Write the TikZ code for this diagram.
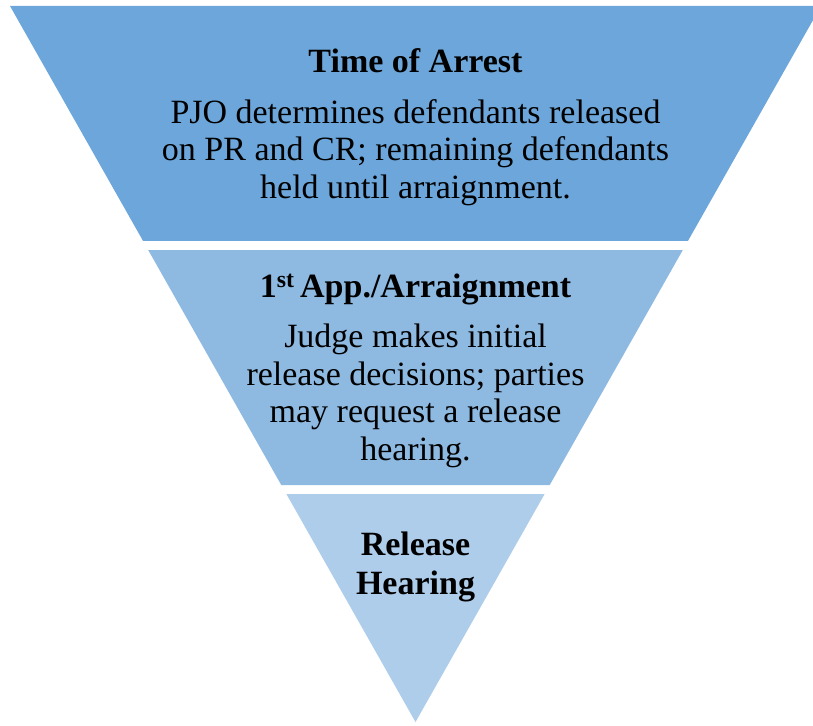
\documentclass[tikz,border=0pt]{standalone}
\usepackage{fontspec}
\setmainfont{Liberation Serif}
\usetikzlibrary{calc}
\definecolor{bandA}{HTML}{6CA6DA}
\definecolor{bandB}{HTML}{8EBAE2}
\definecolor{bandC}{HTML}{AECDEB}
\begin{document}
\begin{tikzpicture}[x=1pt,y=-1pt,
  bandtitle/.style={font=\fontsize{34}{38}\selectfont\bfseries,align=center,inner sep=0pt,anchor=base},
  bandtext/.style={font=\fontsize{34}{37.5}\selectfont,align=center,inner sep=0pt,anchor=north}]
  \useasboundingbox (0,0) rectangle (813,725);
  \clip (0,0) rectangle (813,725);
  \coordinate (tl) at (10,6);
  \coordinate (tr) at (821,6);
  \coordinate (apex) at (415.5,722);
  % Three bands of the funnel
  \fill[bandA] (tl) -- (tr) -- ($(tr)!0.3282!(apex)$) -- ($(tl)!0.3282!(apex)$) -- cycle;
  \fill[bandB] ($(tl)!0.3408!(apex)$) -- ($(tr)!0.3408!(apex)$) -- ($(tr)!0.6690!(apex)$) -- ($(tl)!0.6690!(apex)$) -- cycle;
  \fill[bandC] ($(tl)!0.6816!(apex)$) -- ($(tr)!0.6816!(apex)$) -- (apex) -- cycle;
  % Labels
  \node[bandtitle] (arrest) at (415.5,72) {Time of Arrest};
  \node[bandtext] (arresttxt) at (415.5,99) {PJO determines defendants released\\on PR and CR; remaining defendants\\held until arraignment.};
  \node[bandtitle] (arraign) at (415.5,297) {1\textsuperscript{st}\,App./Arraignment};
  \node[bandtext] (arraigntxt) at (415.5,324) {Judge makes initial\\release decisions; parties\\may request a release\\hearing.};
  \node[bandtitle] (hearing) at (415.5,555) {Release};
  \node[bandtitle] (hearing2) at (415.5,594) {Hearing};
\end{tikzpicture}
\end{document}
